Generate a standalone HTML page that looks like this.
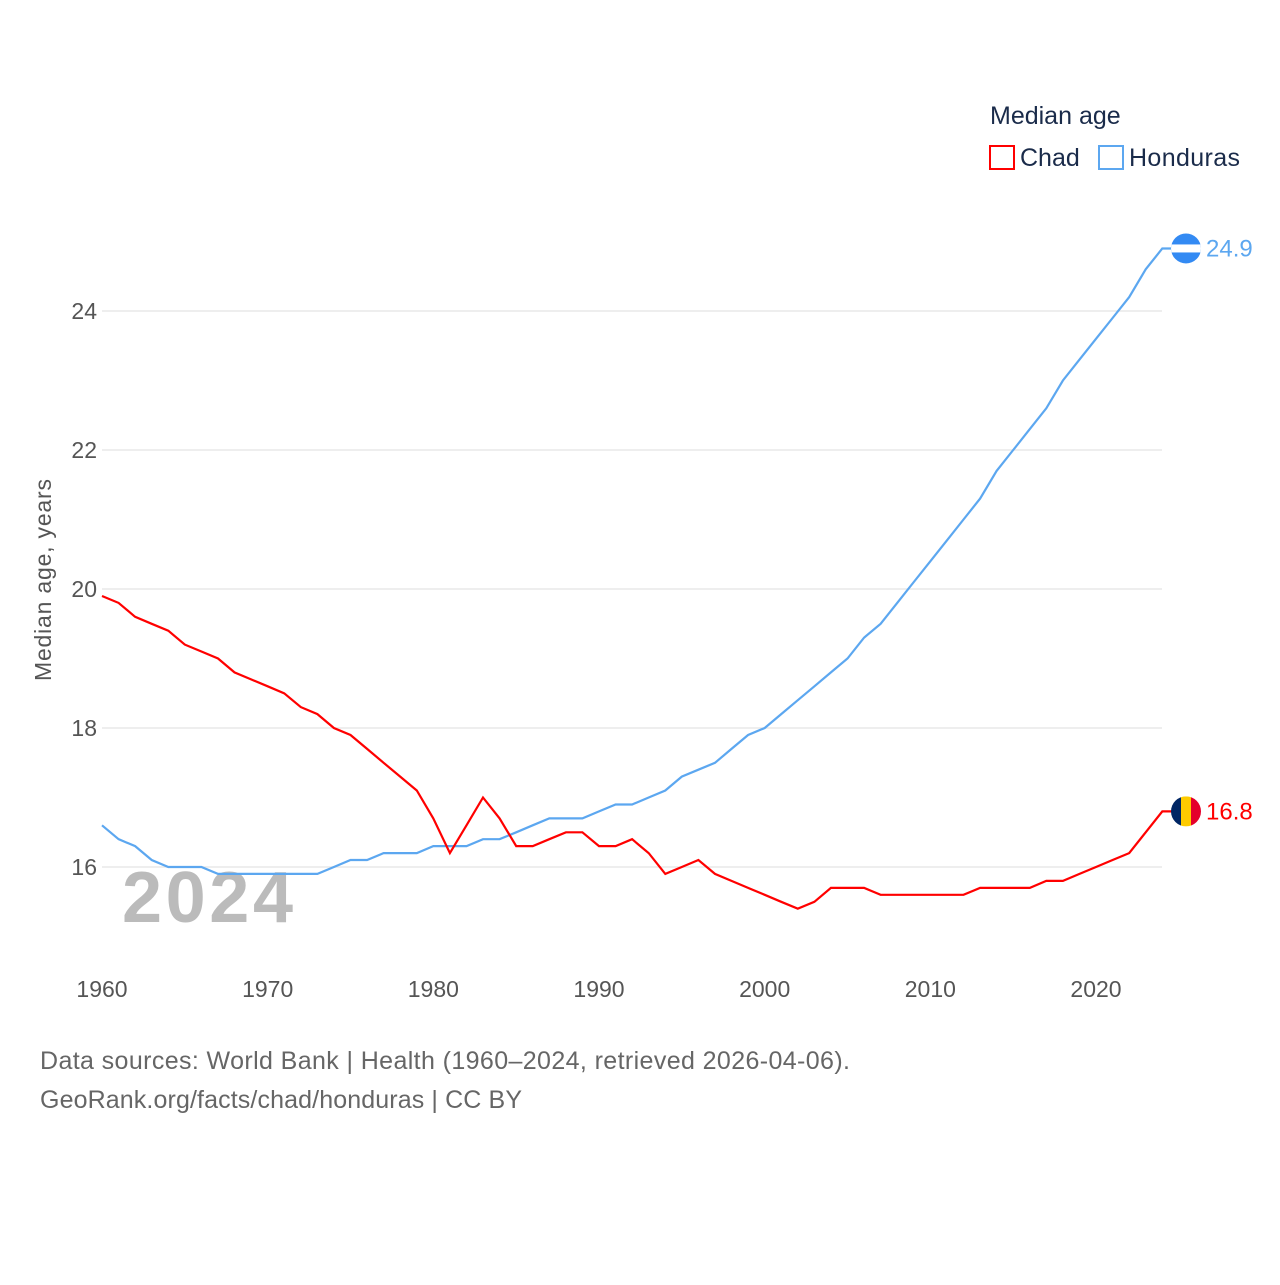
<!DOCTYPE html>
<html><head><meta charset="utf-8"><style>
body{margin:0;background:#fff;width:1280px;height:1280px;overflow:hidden;font-family:"Liberation Sans",sans-serif}
</style></head><body>
<svg width="1280" height="1280" xmlns="http://www.w3.org/2000/svg" id="chart">
<text x="990" y="124" font-size="25" fill="#1a2b4a">Median age</text>
<rect x="990" y="146" width="24" height="23" fill="none" stroke="#f00" stroke-width="2"/>
<text x="1020" y="166" font-size="25" fill="#1a2b4a">Chad</text>
<rect x="1099" y="146" width="24" height="23" fill="none" stroke="#5ca7f0" stroke-width="2"/>
<text x="1129" y="166" font-size="25" fill="#1a2b4a" textLength="111">Honduras</text>
<text transform="translate(51,580) rotate(-90)" text-anchor="middle" font-size="23" fill="#555" textLength="202">Median age, years</text>
<text x="122" y="922" font-size="72" font-weight="bold" fill="#bbb" textLength="171">2024</text>
<g id="grid"></g><g id="lines"></g>
<text x="40" y="1069" font-size="25" fill="#666" textLength="810">Data sources: World Bank | Health (1960–2024, retrieved 2026-04-06).</text>
<text x="40" y="1108" font-size="25" fill="#666" textLength="482">GeoRank.org/facts/chad/honduras | CC BY</text>
</svg>
<script>
const years=[];for(let y=1960;y<=2024;y++)years.push(y);
const chad=[19.9,19.8,19.6,19.5,19.4,19.2,19.1,19.0,18.8,18.7,18.6,18.5,18.3,18.2,18.0,17.9,17.7,17.5,17.3,17.1,16.7,16.2,16.6,17.0,16.7,16.3,16.3,16.4,16.5,16.5,16.3,16.3,16.4,16.2,15.9,16.0,16.1,15.9,15.8,15.7,15.6,15.5,15.4,15.5,15.7,15.7,15.7,15.6,15.6,15.6,15.6,15.6,15.6,15.7,15.7,15.7,15.7,15.8,15.8,15.9,16.0,16.1,16.2,16.5,16.8];
const honduras=[16.6,16.4,16.3,16.1,16.0,16.0,16.0,15.9,15.9,15.9,15.9,15.9,15.9,15.9,16.0,16.1,16.1,16.2,16.2,16.2,16.3,16.3,16.3,16.4,16.4,16.5,16.6,16.7,16.7,16.7,16.8,16.9,16.9,17.0,17.1,17.3,17.4,17.5,17.7,17.9,18.0,18.2,18.4,18.6,18.8,19.0,19.3,19.5,19.8,20.1,20.4,20.7,21.0,21.3,21.7,22.0,22.3,22.6,23.0,23.3,23.6,23.9,24.2,24.6,24.9];
const yTicks=[16,18,20,22,24];
const xTicks=[1960,1970,1980,1990,2000,2010,2020];
const NS="http://www.w3.org/2000/svg";
const xS=y=>102+(y-1960)*16.567;
const yS=v=>867-(v-16)*69.5;
const grid=document.getElementById('grid'),lines=document.getElementById('lines');
function mk(tag,attrs,parent){const e=document.createElementNS(NS,tag);for(const k in attrs)e.setAttribute(k,attrs[k]);parent.appendChild(e);return e;}
yTicks.forEach(t=>{
 const l=mk('line',{x1:102,x2:1162,y1:yS(t),y2:yS(t),stroke:'#e8e8e8','stroke-width':1.5},grid);
 
 
 const tx=mk('text',{x:97,y:yS(t)+8,'text-anchor':'end','font-size':23,fill:'#555'},grid);
 tx.textContent=t;
 
 
});
xTicks.forEach(t=>{
 const tx=mk('text',{x:xS(t),y:997,'text-anchor':'middle','font-size':23,fill:'#555'},grid);
 tx.textContent=t;
 
 
});
function series(vals,color,name,flag){
 const d=vals.map((v,i)=>(i?'L':'M')+xS(years[i]).toFixed(1)+','+yS(v).toFixed(1)).join(' ');
 const last=vals[vals.length-1];
 const p=mk('path',{d:d+' L1172,'+yS(last).toFixed(1),fill:'none',stroke:color,'stroke-width':2.2},lines);
 
 
 const cx=1186,cy=yS(last);
 const g=mk('g',{},lines);
 
 
 if(flag==='chad'){
  mk('clipPath',{id:'cc'},g);
  mk('circle',{cx:cx,cy:cy,r:15},g.lastChild);
  const gg=mk('g',{'clip-path':'url(#cc)'},g);
  mk('rect',{x:cx-15,y:cy-15,width:10,height:30,fill:'#002664'},gg);
  mk('rect',{x:cx-5,y:cy-15,width:10,height:30,fill:'#fecb00'},gg);
  mk('rect',{x:cx+5,y:cy-15,width:10,height:30,fill:'#e4002b'},gg);
 }else{
  mk('clipPath',{id:'hc'},g);
  mk('circle',{cx:cx,cy:cy,r:15},g.lastChild);
  const gg=mk('g',{'clip-path':'url(#hc)'},g);
  mk('rect',{x:cx-15,y:cy-15,width:30,height:30,fill:'#338af3'},gg);
  mk('rect',{x:cx-15,y:cy-4,width:30,height:8,fill:'#fff'},gg);
 }
 const t=mk('text',{x:1206,y:cy+8,'font-size':24,fill:color},lines);
 t.textContent=last.toFixed(1);
 
 
}
series(honduras,'#5ca7f0','honduras','hon');
series(chad,'#f00','chad','chad');
</script>
</body></html>
